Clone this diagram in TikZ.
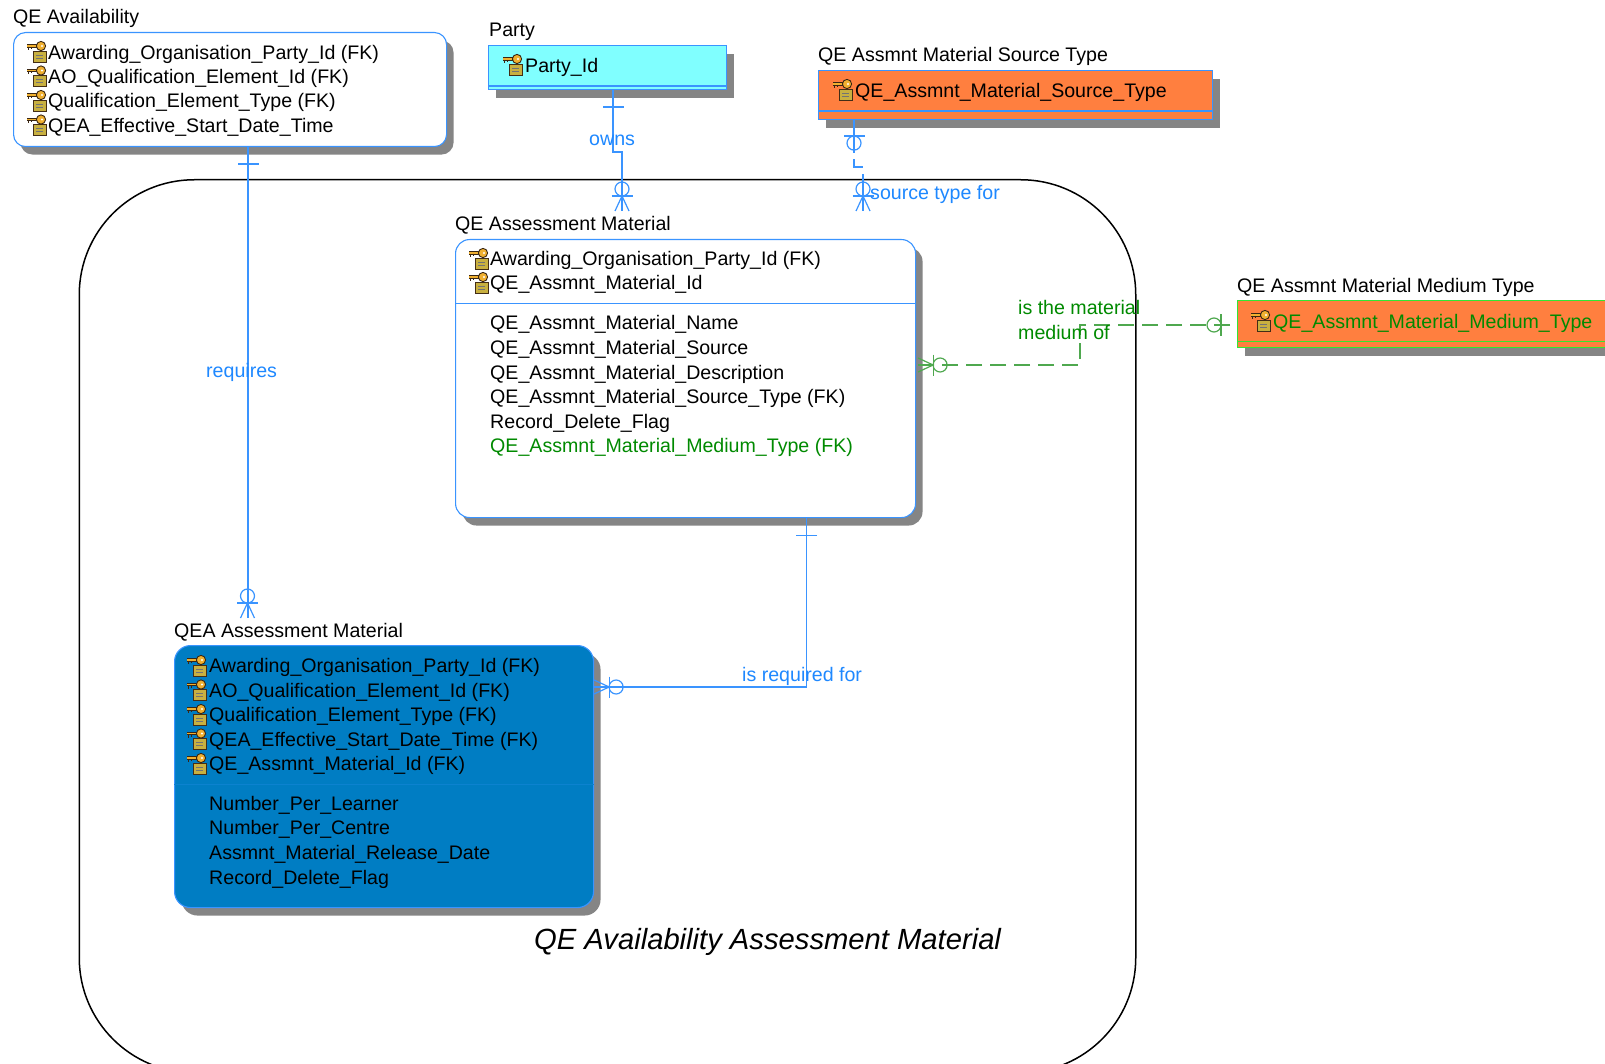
\documentclass[tikz,border=0pt]{standalone}
\usepackage{fontspec}
\setmainfont{Liberation Sans}
\usetikzlibrary{shapes,arrows,positioning,calc,shadows,arrows.meta}

\definecolor{relblue}{HTML}{3A94FF}
\definecolor{relgreen}{HTML}{4FA84F}
\definecolor{boxgreen}{HTML}{33E633}
\definecolor{txtblue}{HTML}{1E88FF}
\definecolor{txtgreen}{HTML}{008A00}
\definecolor{shadegray}{HTML}{858585}
\definecolor{qeablue}{HTML}{007DC3}
\definecolor{cyanfill}{HTML}{80FFFF}
\definecolor{orangefill}{HTML}{FF7F3F}
\definecolor{keygold}{HTML}{F0B030}
\definecolor{docolive}{HTML}{C8B040}

\tikzset{
    entity/.style={draw=relblue, line width=1.1pt, fill=white, inner sep=0pt, anchor=north west,
        drop shadow={opacity=1, fill=shadegray, shadow xshift=7pt, shadow yshift=-8pt}},
    attr/.style={anchor=base west, inner sep=0pt, font=\fontsize{19.6}{24}\selectfont},
    caption/.style={anchor=base west, inner sep=0pt, font=\fontsize{19.6}{24}\selectfont},
    verb/.style={anchor=base west, inner sep=0pt, text=txtblue, font=\fontsize{19.6}{24}\selectfont},
    rel/.style={draw=relblue, line width=1.2pt},
    keyicon/.pic={
        \fill[draw=black!65!brown, line width=.7pt, fill=docolive] (-14,-1) rectangle (-1,10);
        \draw[black!55, line width=.8pt] (-11,3) -- (-4,3) (-11,6) -- (-4,6);
        \draw[black!70!brown, line width=3.4pt] (-20,-6) -- (-7,-6);
        \draw[keygold, line width=1.6pt] (-20,-6) -- (-7,-6);
        \draw[black!70!brown, line width=1pt] (-19,-5) -- (-19,-2) (-16,-5) -- (-16,-3);
        \fill[draw=black!70!brown, line width=.9pt, fill=keygold] (-6,-6) circle (4.6);
        \fill[white] (-5,-6) circle (1.2);
    },
    % one, entity face at origin, line leaves along +x
    oneend/.pic={
        \draw[rel] (17,-10.5) -- (17,10.5);
    },
    oneoptend/.pic={
        \draw[rel] (16,-10.5) -- (16,10.5);
        \draw[rel] (23,0) circle (7);
    },
    manyoptend/.pic={
        \draw[rel] (0,-7) -- (15,0) -- (0,7);
        \draw[rel] (15,-10.5) -- (15,10.5);
        \draw[rel] (22,0) circle (7);
    },
}

\begin{document}
\begin{tikzpicture}[x=1pt, y=-1pt]
    \clip (0,0) rectangle (1605,1064);
    \fill[white] (0,0) rectangle (1605,1064);

    % Subject area
    \node[draw=black, line width=1.5pt, rounded corners=115pt, anchor=north west, inner sep=0pt,
        minimum width=1056.5pt, minimum height=893pt] (subject) at (78.5,179) {};
    \node[anchor=base west, inner sep=0pt, font=\fontsize{29.2}{34}\selectfont\itshape] (subjecttitle) at (534,949)
        {QE Availability Assessment Material};

    % Entities
    \node[entity, rounded corners=12pt, minimum width=433pt, minimum height=114pt] (avail) at (13,32) {};
    \node[entity, fill=cyanfill, minimum width=238pt, minimum height=44pt] (party) at (488,45) {};
    \node[entity, fill=orangefill, minimum width=394pt, minimum height=49pt] (srctype) at (818,70) {};
    \node[entity, rounded corners=14pt, minimum width=460pt, minimum height=278pt] (material) at (455,239) {};
    \node[entity, draw=boxgreen, fill=orangefill, minimum width=400pt, minimum height=47pt] (medium) at (1237,300) {};
    \node[entity, fill=qeablue, rounded corners=16pt, minimum width=419pt, minimum height=262pt] (qea) at (174,645) {};

    % Compartment lines
    \draw[rel] ([yshift=4pt]party.south west) -- ([yshift=4pt]party.south east);
    \draw[rel] ([yshift=9pt]srctype.south west) -- ([yshift=9pt]srctype.south east);
    \draw[draw=boxgreen, line width=1pt] ([yshift=7pt]medium.south west) -- ([yshift=7pt]medium.south east);
    \draw[rel, line width=1pt] ([yshift=-65pt]material.north west) -- ([yshift=-65pt]material.north east);
    \draw[draw=qeablue!80!relblue, line width=.8pt] ([yshift=-139pt]qea.north west) -- ([yshift=-139pt]qea.north east);

    % Entity names
    \node[caption] (availname) at (13,24) {QE Availability};
    \node[caption] (partyname) at (489,37) {Party};
    \node[caption] (srctypename) at (818,62) {QE Assmnt Material Source Type};
    \node[caption] (materialname) at (455,230.5) {QE Assessment Material};
    \node[caption] (mediumname) at (1237,292.5) {QE Assmnt Material Medium Type};
    \node[caption] (qeaname) at (174,637) {QEA Assessment Material};

    % QE Availability keys
    \node[attr] (avail1) at (48,59.5) {Awarding\_Organisation\_Party\_Id (FK)};
    \node[attr] (avail2) at (48,84) {AO\_Qualification\_Element\_Id (FK)};
    \node[attr] (avail3) at (48,108) {Qualification\_Element\_Type (FK)};
    \node[attr] (avail4) at (48,133) {QEA\_Effective\_Start\_Date\_Time};
    \pic at (47,52) {keyicon};
    \pic at (47,76.5) {keyicon};
    \pic at (47,101) {keyicon};
    \pic at (47,125.5) {keyicon};

    % Party
    \node[attr] (party1) at (525,72.7) {Party\_Id};
    \pic at (523,65) {keyicon};

    % Source type
    \node[attr] (srctype1) at (855,97.5) {QE\_Assmnt\_Material\_Source\_Type};
    \pic at (853,90) {keyicon};

    % Medium type
    \node[attr, text=txtgreen] (medium1) at (1273,328) {QE\_Assmnt\_Material\_Medium\_Type};
    \pic at (1271,321) {keyicon};

    % QE Assessment Material
    \node[attr] (material1) at (490,266) {Awarding\_Organisation\_Party\_Id (FK)};
    \node[attr] (material2) at (490,290) {QE\_Assmnt\_Material\_Id};
    \pic at (489,259) {keyicon};
    \pic at (489,283) {keyicon};
    \node[attr] (material3) at (490,330) {QE\_Assmnt\_Material\_Name};
    \node[attr] (material4) at (490,354.5) {QE\_Assmnt\_Material\_Source};
    \node[attr] (material5) at (490,379) {QE\_Assmnt\_Material\_Description};
    \node[attr] (material6) at (490,403.5) {QE\_Assmnt\_Material\_Source\_Type (FK)};
    \node[attr] (material7) at (490,428) {Record\_Delete\_Flag};
    \node[attr, text=txtgreen] (material8) at (490,452.5) {QE\_Assmnt\_Material\_Medium\_Type (FK)};

    % QEA Assessment Material
    \node[attr] (qea1) at (209,672.5) {Awarding\_Organisation\_Party\_Id (FK)};
    \node[attr] (qea2) at (209,697) {AO\_Qualification\_Element\_Id (FK)};
    \node[attr] (qea3) at (209,721.5) {Qualification\_Element\_Type (FK)};
    \node[attr] (qea4) at (209,746) {QEA\_Effective\_Start\_Date\_Time (FK)};
    \node[attr] (qea5) at (209,770.5) {QE\_Assmnt\_Material\_Id (FK)};
    \pic at (207,666) {keyicon};
    \pic at (207,690.5) {keyicon};
    \pic at (207,715) {keyicon};
    \pic at (207,739.5) {keyicon};
    \pic at (207,764) {keyicon};
    \node[attr] (qea6) at (209,810.7) {Number\_Per\_Learner};
    \node[attr] (qea7) at (209,834.5) {Number\_Per\_Centre};
    \node[attr] (qea8) at (209,859.5) {Assmnt\_Material\_Release\_Date};
    \node[attr] (qea9) at (209,884) {Record\_Delete\_Flag};

    % Relationship: requires
    \coordinate (reqfrom) at ([xshift=235pt]avail.south west);
    \coordinate (reqto) at ([xshift=73.5pt,yshift=27pt]qea.north west);
    \draw[rel] (reqfrom) -- (reqfrom |- reqto);
    \pic[rotate=-90] at (reqfrom) {oneend};
    \pic[rotate=90] at (reqto) {manyoptend};
    \node[verb] (requires) at (206,377) {requires};

    % Relationship: owns
    \coordinate (ownsfrom) at ([xshift=125pt]party.south west);
    \coordinate (ownsto) at ([xshift=167pt,yshift=28pt]material.north west);
    \draw[rel] (ownsfrom) -- ++(0,62) -| (ownsto);
    \pic[rotate=-90] at (ownsfrom) {oneend};
    \pic[rotate=90] at (ownsto) {manyoptend};
    \node[verb] (owns) at (589,146) {owns};

    % Relationship: source type for
    \coordinate (srcfrom) at ([xshift=36pt]srctype.south west);
    \coordinate (srcto) at ([xshift=408pt,yshift=28pt]material.north west);
    \draw[rel, dash pattern=on 33pt off 6pt on 17pt off 7pt on 100pt] (srcfrom) -- ++(0,47) -| (srcto);
    \pic[rotate=-90] at (srcfrom) {oneoptend};
    \pic[rotate=90] at (srcto) {manyoptend};
    \node[verb] (srcverb) at (870,200) {source type for};

    % Relationship: is the material medium of
    \coordinate (medfrom) at ([yshift=-25pt]medium.north west);
    \coordinate (medto) at ([yshift=-126pt,xshift=2pt]material.north east);
    \begin{scope}[rel/.append style={draw=relgreen}]
        \draw[rel, dash pattern=on 16pt off 8pt, dash phase=17pt] (medfrom) -- ++(-157,0) -- ++(0,40) -- (medto);
        \pic[rotate=180] at (medfrom) {oneoptend};
        \pic at (medto) {manyoptend};
    \end{scope}
    \node[verb, text=txtgreen] (medverb1) at (1018,315) {is the material};
    \node[verb, text=txtgreen] (medverb2) at (1018,339) {medium of};

    % Relationship: is required for
    \coordinate (forfrom) at ([xshift=351.5pt]material.south west);
    \coordinate (forto) at ([yshift=-42pt]qea.north east);
    \draw[rel] (forfrom) |- (forto);
    \pic[rotate=-90] at (forfrom) {oneend};
    \pic at (forto) {manyoptend};
    \node[verb] (forverb) at (742,681.7) {is required for};
\end{tikzpicture}
\end{document}
